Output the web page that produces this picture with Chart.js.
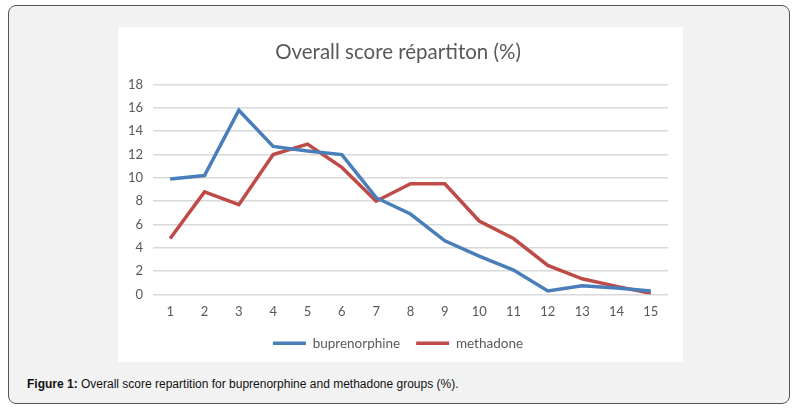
<!DOCTYPE html>
<html>
<head>
<meta charset="utf-8">
<script src="https://cdn.jsdelivr.net/npm/chart.js@4/dist/chart.umd.min.js"></script>
<style>
  html, body { margin: 0; padding: 0; background: #fff; }
  .frame {
    position: absolute; left: 8px; top: 5px;
    width: 780px; height: 397px;
    background: #f2f2f2;
    border: 1px solid #555;
    border-radius: 8px;
  }
  .chart-box {
    position: absolute; left: 118px; top: 27px;
    width: 565px; height: 335px;
    background: #fff;
  }
  .caption {
    position: absolute; left: 27px; top: 377px;
    font-family: "Liberation Sans", Arial, sans-serif;
    font-size: 12px; color: #111;
  }
</style>
</head>
<body>
<div class="frame"></div>
<div class="chart-box"><canvas id="chart"></canvas></div>
<div class="caption"><b>Figure 1:</b> Overall score repartition for buprenorphine and methadone groups (%).</div>
<script>
const scores = ["1", "2", "3", "4", "5", "6", "7", "8", "9", "10", "11", "12", "13", "14", "15"];
const buprenorphine = [9.9, 10.2, 15.8, 12.7, 12.3, 12.0, 8.3, 6.9, 4.6, 3.3, 2.1, 0.3, 0.75, 0.55, 0.3];
const methadone = [4.8, 8.8, 7.7, 12.0, 12.9, 10.9, 8.0, 9.5, 9.5, 6.3, 4.8, 2.5, 1.35, 0.7, 0.1];
const yTicks = [0, 2, 4, 6, 8, 10, 12, 14, 16, 18];

const textColor = "#595959";
const font = "Lato, 'Open Sans', sans-serif";

const ctx = document.getElementById("chart").getContext("2d");
new Chart(ctx, {
  type: "line",
  data: {
    labels: scores,
    datasets: [
      {
        label: "buprenorphine",
        data: buprenorphine,
        borderColor: "#4a7ebb",
        backgroundColor: "#4a7ebb",
        borderWidth: 3.5,
        pointRadius: 0,
        pointStyle: "line",
        tension: 0,
        fill: false,
      },
      {
        label: "methadone",
        data: methadone,
        borderColor: "#be4b48",
        backgroundColor: "#be4b48",
        borderWidth: 3.5,
        pointRadius: 0,
        pointStyle: "line",
        tension: 0,
        fill: false,
      },
    ],
  },
  options: {
    responsive: true,
    maintainAspectRatio: false,
    animation: false,
    layout: { padding: { top: 13, left: 10, right: 15, bottom: 2 } },
    plugins: {
      title: {
        display: true,
        text: "Overall score répartiton (%)",
        color: textColor,
        font: { family: font, size: 20.5, weight: "normal" },
        padding: { top: 0, bottom: 20 },
      },
      legend: {
        position: "bottom",
        labels: {
          usePointStyle: true,
          pointStyleWidth: 33,
          color: textColor,
          font: { family: font, size: 13.5 },
          padding: 16,
        },
      },
      tooltip: { enabled: false },
    },
    scales: {
      x: {
        offset: true,
        // padding counts twice in the axis height, keep only the top part
        afterFit: (s) => { s.height = 26; },
        grid: { display: false, drawTicks: false },
        border: { display: false },
        ticks: { color: textColor, font: { family: font, size: 13 }, padding: 10 },
      },
      y: {
        min: 0,
        max: 18,
        afterFit: (s) => { s.width = 25; },
        afterBuildTicks: (s) => { s.ticks = yTicks.map((v) => ({ value: v })); },
        grid: { color: "#d9d9d9", lineWidth: 1.5, drawTicks: false },
        border: { display: false },
        ticks: { color: textColor, font: { family: font, size: 13 }, padding: 10 },
      },
    },
  },
});
</script>
</body>
</html>
